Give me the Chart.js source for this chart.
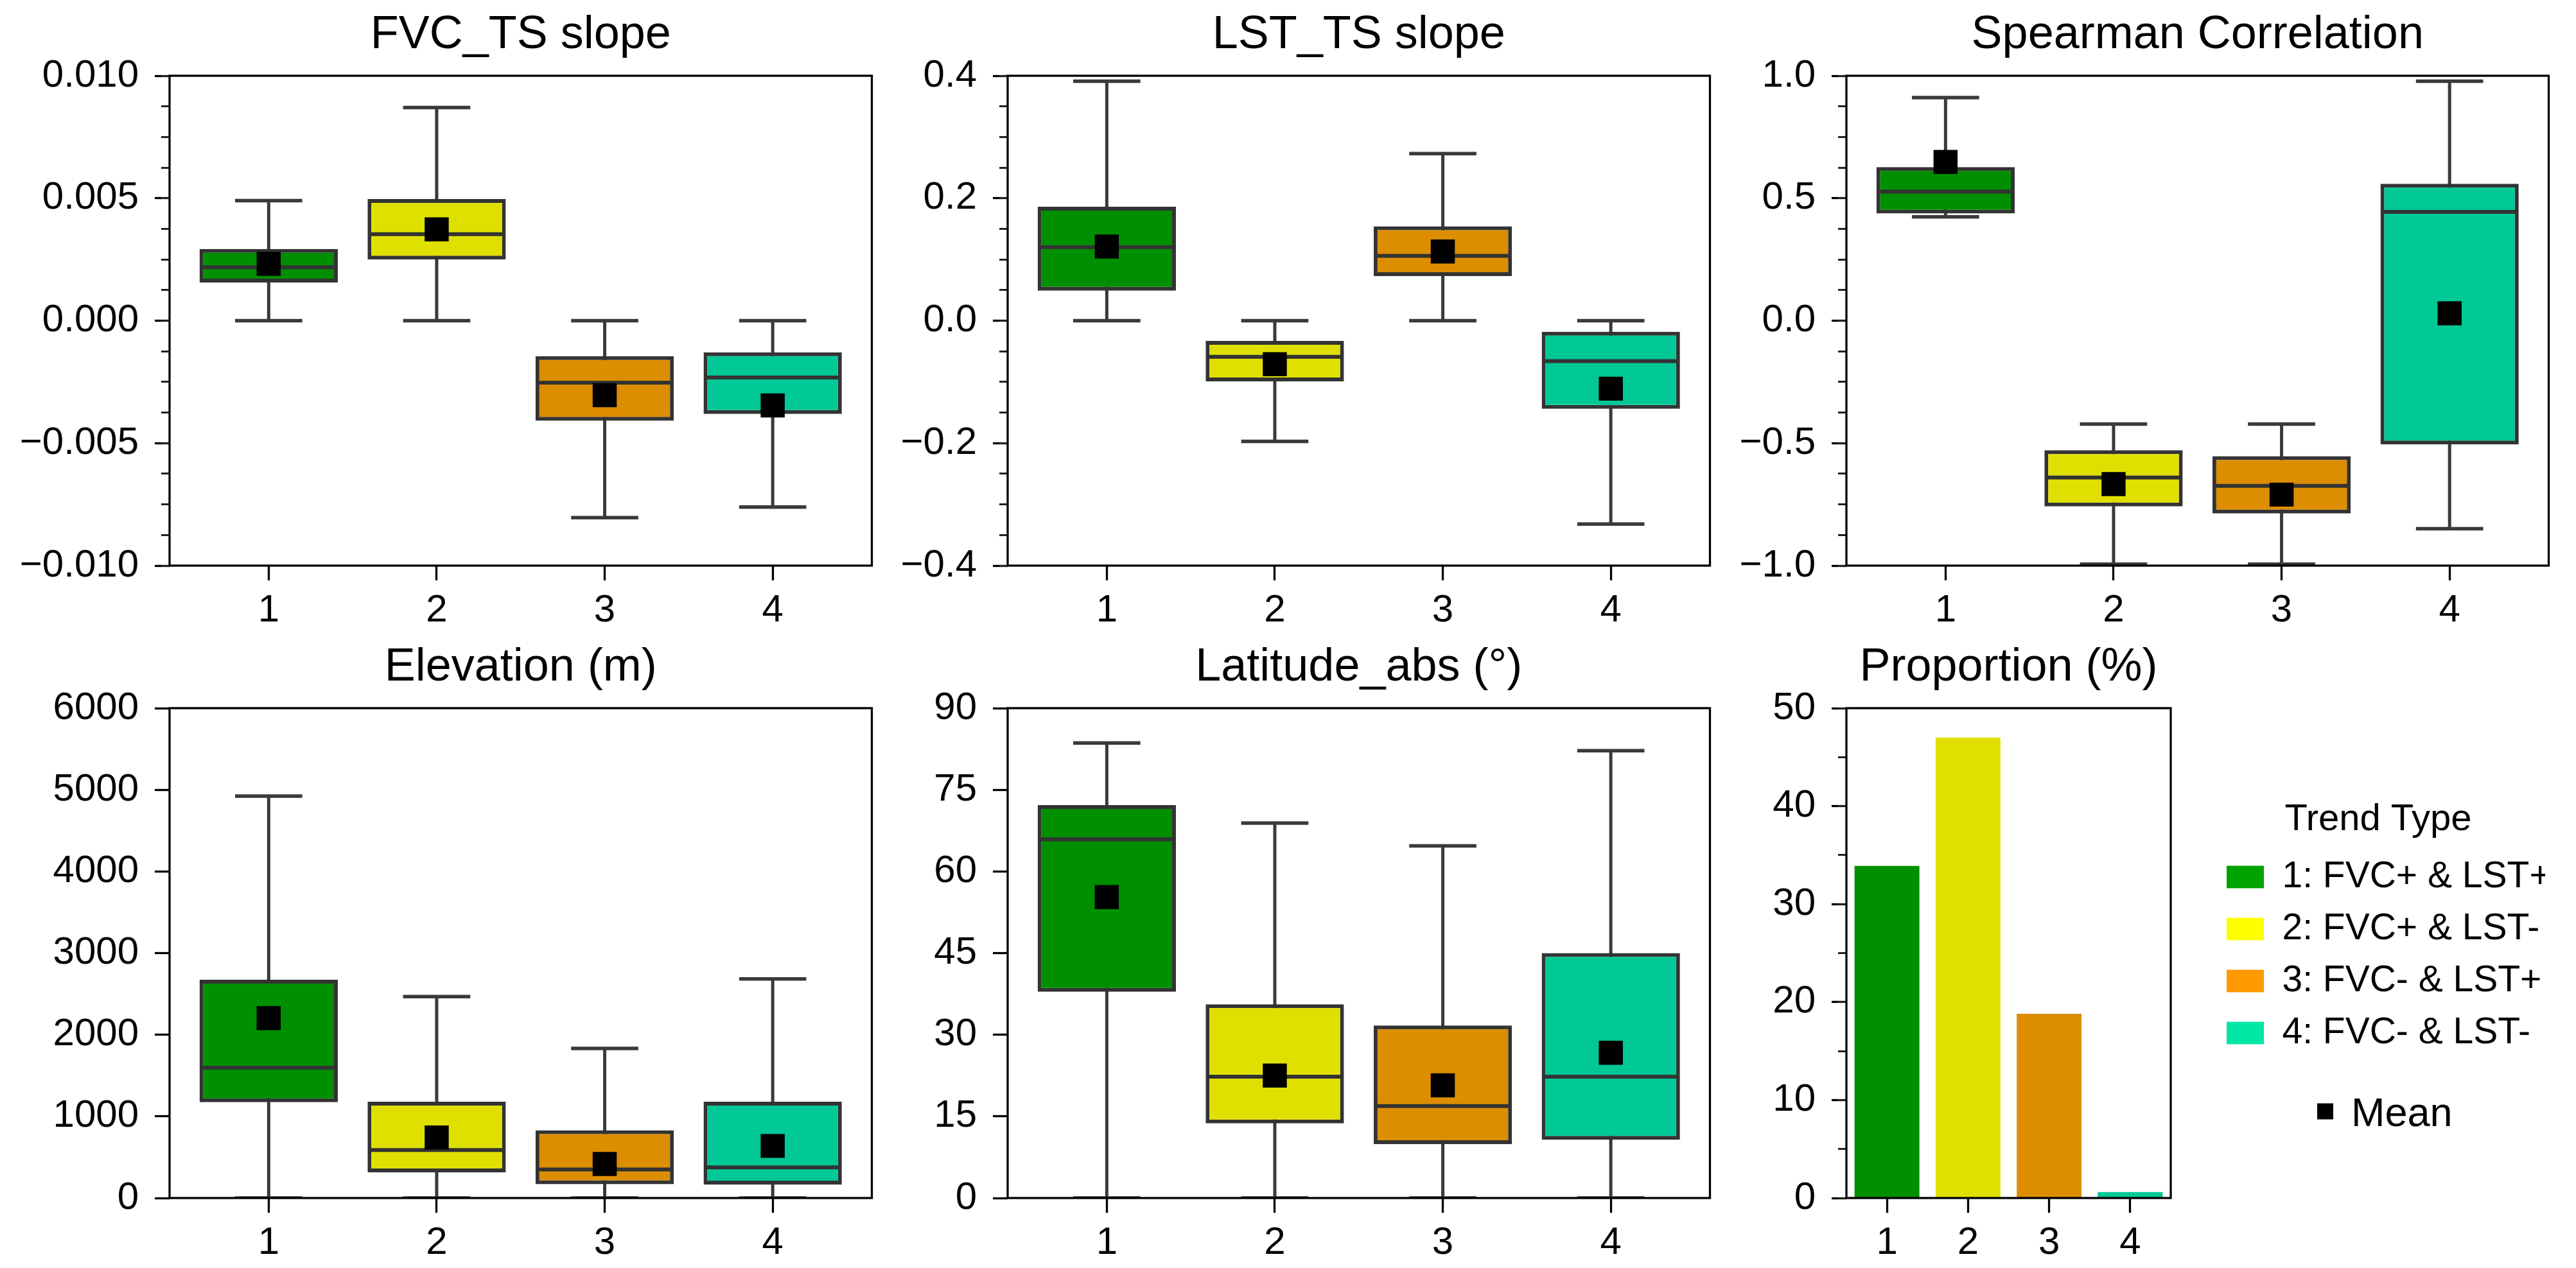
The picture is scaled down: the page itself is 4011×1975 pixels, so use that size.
<!DOCTYPE html>
<html>
<head>
<meta charset="utf-8">
<script src="https://cdn.jsdelivr.net/npm/chart.js@4.4.1/dist/chart.umd.min.js"></script>
<style>
  html, body { margin: 0; padding: 0; background: #ffffff; }
  #fig { position: relative; width: 4011px; height: 1975px; background: #ffffff; overflow: hidden; }
  #fig canvas { position: absolute; }
</style>
</head>
<body>
<div id="fig"></div>
<script>
// ---------------- DATA ----------------
const categories = [1, 2, 3, 4];
const categoryLabels = ['1', '2', '3', '4'];
const trendLabels = ['1: FVC+ & LST+', '2: FVC+ & LST-', '3: FVC- & LST+', '4: FVC- & LST-'];
const legendTitle = 'Trend Type';
const meanLabel = 'Mean';

// FVC_TS slope
const fvcLow    = [0, 0, -0.00804, -0.00761];
const fvcQ1     = [0.00156, 0.00250, -0.00408, -0.00381];
const fvcMedian = [0.00218, 0.00353, -0.00253, -0.00232];
const fvcQ3     = [0.00293, 0.00497, -0.00145, -0.00129];
const fvcHigh   = [0.00490, 0.00870, 0, 0];
const fvcMean   = [0.00232, 0.00373, -0.00304, -0.00346];
const fvcTicks      = [-0.010, -0.005, 0.000, 0.005, 0.010];
const fvcTickLabels = ['\u22120.010', '\u22120.005', '0.000', '0.005', '0.010'];

// LST_TS slope
const lstLow    = [0, -0.197, 0, -0.332];
const lstQ1     = [0.049, -0.099, 0.073, -0.144];
const lstMedian = [0.120, -0.059, 0.106, -0.066];
const lstQ3     = [0.186, -0.033, 0.154, -0.018];
const lstHigh   = [0.391, 0, 0.273, 0];
const lstMean   = [0.121, -0.071, 0.113, -0.111];
const lstTicks      = [-0.4, -0.2, 0.0, 0.2, 0.4];
const lstTickLabels = ['\u22120.4', '\u22120.2', '0.0', '0.2', '0.4'];

// Spearman Correlation
const spLow    = [0.424, -0.994, -0.994, -0.849];
const spQ1     = [0.438, -0.758, -0.787, -0.505];
const spMedian = [0.527, -0.640, -0.674, 0.444];
const spQ3     = [0.627, -0.529, -0.553, 0.559];
const spHigh   = [0.911, -0.422, -0.422, 0.978];
const spMean   = [0.648, -0.667, -0.710, 0.030];
const spTicks      = [-1.0, -0.5, 0.0, 0.5, 1.0];
const spTickLabels = ['\u22121.0', '\u22120.5', '0.0', '0.5', '1.0'];

// Elevation (m)
const elevLow    = [0, 0, 0, 0];
const elevQ1     = [1174, 314, 170, 165];
const elevMedian = [1596, 587, 350, 376];
const elevQ3     = [2673, 1179, 829, 1179];
const elevHigh   = [4923, 2467, 1833, 2683];
const elevMean   = [2204, 741, 417, 638];
const elevTicks      = [0, 1000, 2000, 3000, 4000, 5000, 6000];
const elevTickLabels = ['0', '1000', '2000', '3000', '4000', '5000', '6000'];

// Latitude_abs (°)
const latLow    = [0, 0, 0, 0];
const latQ1     = [37.9, 13.7, 9.9, 10.7];
const latMedian = [65.9, 22.3, 16.9, 22.3];
const latQ3     = [72.2, 35.6, 31.7, 45.0];
const latHigh   = [83.6, 68.9, 64.7, 82.2];
const latMean   = [55.3, 22.5, 20.7, 26.7];
const latTicks      = [0, 15, 30, 45, 60, 75, 90];
const latTickLabels = ['0', '15', '30', '45', '60', '75', '90'];

// Proportion (%)
const proportion = [33.9, 47.0, 18.8, 0.6];
const propTicks      = [0, 10, 20, 30, 40, 50];
const propTickLabels = ['0', '10', '20', '30', '40', '50'];

// ---------------- STYLE / LAYOUT ----------------
const boxColors    = ['#008f00', '#e0e000', '#dc8e00', '#00c896'];
const legendColors = ['#00a300', '#ffff00', '#ff9900', '#00e6a5'];
const BOX_EDGE = '#333333';
const WHISKER  = '#3a3a3a';
const TICK_FONT = 60;
const TITLE_FONT = 72;
const Y_AXIS_W = 250, X_AXIS_H = 100, TOP_H = 118, PAD_R = 20;
const PLOT_W = 1100, PLOT_H = 763, PROP_W = 505;
const COL_LEFT = [264, 1569, 2875];
const ROW_TOP = [118, 1103];
const BOX_HALF = 0.4, CAP_HALF = 0.2;

Chart.defaults.font.family = "'Liberation Sans', Arial, Helvetica, sans-serif";
Chart.defaults.color = '#000';

const fig = document.getElementById('fig');
function addCanvas(left, top, w, h) {
  const c = document.createElement('canvas');
  c.width = w; c.height = h;
  c.style.left = left + 'px'; c.style.top = top + 'px';
  c.style.width = w + 'px'; c.style.height = h + 'px';
  fig.appendChild(c);
  return c;
}

const halfPx = (chart, w) => {
  const s = chart.scales.x;
  return Math.abs(s.getPixelForValue(1 + w) - s.getPixelForValue(1));
};

const framePlugin = {
  id: 'frame',
  afterDatasetsDraw(chart) {
    const {ctx, chartArea: a} = chart;
    ctx.save();
    ctx.strokeStyle = '#000';
    ctx.lineWidth = 3.3;
    ctx.strokeRect(a.left, a.top, a.right - a.left, a.bottom - a.top);
    ctx.restore();
  }
};

const meanKeyPlugin = {
  id: 'meanKey',
  afterDraw(chart) {
    const L = chart.legend;
    if (!L) return;
    const ctx = chart.ctx;
    const cx = L.left + 177.5, cy = L.top + 628;
    ctx.save();
    ctx.fillStyle = '#000';
    ctx.fillRect(cx - 12.5, cy - 12.5, 25, 25);
    ctx.font = "63px 'Liberation Sans', Arial, Helvetica, sans-serif";
    ctx.textBaseline = 'middle';
    ctx.textAlign = 'left';
    ctx.fillText(meanLabel, cx + 40.5, cy + 5.5);
    ctx.restore();
  }
};

const common = {
  responsive: false,
  maintainAspectRatio: false,
  devicePixelRatio: 1,
  animation: false,
  events: [],
  layout: { padding: { left: 0, top: 0, bottom: 0, right: PAD_R } }
};

function titleOpts(text) {
  return {
    display: true, text, fullSize: false, color: '#000',
    font: { size: TITLE_FONT, weight: 'normal', lineHeight: 1.2 },
    padding: { top: 12, bottom: 19.6 }
  };
}

function xTickGrid() {
  return { offset: false, drawOnChartArea: false, drawTicks: true, tickLength: 23, tickWidth: 3.3, tickColor: '#000' };
}

function boxXScale() {
  return {
    type: 'linear', min: 0.41, max: 4.59, offset: false,
    afterBuildTicks: s => { s.ticks = categories.map(v => ({ value: v })); },
    afterFit: s => { s.height = X_AXIS_H; },
    ticks: { callback: (v, i) => categoryLabels[i], font: { size: TICK_FONT }, padding: 11, color: '#000', maxRotation: 0, autoSkip: false },
    grid: xTickGrid(),
    border: { display: false }
  };
}

function yScales(tickVals, tickLabels, minorStep) {
  const min = tickVals[0], max = tickVals[tickVals.length - 1];
  const s = {
    y: {
      type: 'linear', position: 'left', weight: 1, min, max,
      afterBuildTicks: sc => { sc.ticks = tickVals.map(v => ({ value: v })); },
      afterFit: sc => { sc.width = Y_AXIS_W; },
      ticks: { callback: (v, i) => tickLabels[i], font: { size: TICK_FONT }, padding: 25, color: '#000', autoSkip: false },
      grid: { drawOnChartArea: false, drawTicks: true, tickLength: 23, tickWidth: 3.3, tickColor: '#000' },
      border: { display: false }
    }
  };
  if (minorStep) {
    s.yMinor = {
      type: 'linear', position: 'left', weight: 0, min, max,
      afterFit: sc => { sc.width = 0; },
      ticks: { display: false, stepSize: minorStep, maxTicksLimit: 1000 },
      grid: { drawOnChartArea: false, drawTicks: true, tickLength: 13, tickWidth: 3, tickColor: '#222' },
      border: { display: false }
    };
  }
  return s;
}

function boxDatasets(st) {
  const pts = arr => categories.map((c, i) => ({ x: c, y: arr[i] }));
  const whiskers = [];
  categories.forEach((c, i) => {
    whiskers.push({ x: c, y: st.low[i] }, { x: c, y: st.high[i] }, { x: c, y: null });
  });
  return [
    { type: 'scatter', order: 5, data: whiskers, showLine: true, spanGaps: false,
      borderColor: WHISKER, borderWidth: 5, pointRadius: 0, pointHoverRadius: 0 },
    { type: 'scatter', order: 4, data: pts(st.low).concat(pts(st.high)),
      pointStyle: 'line', pointRadius: c => halfPx(c.chart, CAP_HALF),
      pointBorderColor: WHISKER, pointBorderWidth: 5.5, pointBackgroundColor: WHISKER },
    { type: 'bar', order: 3, data: categories.map((c, i) => ({ x: c, y: [st.q1[i], st.q3[i]] })),
      backgroundColor: boxColors, borderColor: BOX_EDGE, borderWidth: 6, borderSkipped: false,
      barPercentage: 0.823, categoryPercentage: 1.0 },
    { type: 'scatter', order: 2, data: pts(st.median),
      pointStyle: 'line', pointRadius: c => halfPx(c.chart, BOX_HALF),
      pointBorderColor: BOX_EDGE, pointBorderWidth: 6, pointBackgroundColor: BOX_EDGE },
    { type: 'scatter', order: 1, data: pts(st.mean),
      pointStyle: 'rect', pointRadius: 26.5, pointBackgroundColor: '#000', pointBorderWidth: 0 }
  ];
}

function boxPanel(title, st, tickVals, tickLabels, minorStep, left, top) {
  const canvas = addCanvas(left - Y_AXIS_W, top - TOP_H, Y_AXIS_W + PLOT_W + PAD_R, TOP_H + PLOT_H + X_AXIS_H);
  return new Chart(canvas, {
    type: 'bar',
    data: { datasets: boxDatasets(st) },
    options: Object.assign({}, common, {
      scales: Object.assign({ x: boxXScale() }, yScales(tickVals, tickLabels, minorStep)),
      plugins: { title: titleOpts(title), legend: { display: false }, tooltip: { enabled: false } }
    }),
    plugins: [framePlugin]
  });
}

boxPanel('FVC_TS slope',
  { low: fvcLow, q1: fvcQ1, median: fvcMedian, q3: fvcQ3, high: fvcHigh, mean: fvcMean },
  fvcTicks, fvcTickLabels, 0.00125, COL_LEFT[0], ROW_TOP[0]);
boxPanel('LST_TS slope',
  { low: lstLow, q1: lstQ1, median: lstMedian, q3: lstQ3, high: lstHigh, mean: lstMean },
  lstTicks, lstTickLabels, 0.05, COL_LEFT[1], ROW_TOP[0]);
boxPanel('Spearman Correlation',
  { low: spLow, q1: spQ1, median: spMedian, q3: spQ3, high: spHigh, mean: spMean },
  spTicks, spTickLabels, 0.125, COL_LEFT[2], ROW_TOP[0]);
boxPanel('Elevation (m)',
  { low: elevLow, q1: elevQ1, median: elevMedian, q3: elevQ3, high: elevHigh, mean: elevMean },
  elevTicks, elevTickLabels, null, COL_LEFT[0], ROW_TOP[1]);
boxPanel('Latitude_abs (\u00b0)',
  { low: latLow, q1: latQ1, median: latMedian, q3: latQ3, high: latHigh, mean: latMean },
  latTicks, latTickLabels, null, COL_LEFT[1], ROW_TOP[1]);

// Proportion panel with legend
(function () {
  const LEGEND_GAP = 63, LEGEND_W = 520;
  const left = COL_LEFT[2], top = ROW_TOP[1];
  const canvas = addCanvas(left - Y_AXIS_W, top - TOP_H, Y_AXIS_W + PROP_W + LEGEND_GAP + LEGEND_W + PAD_R, TOP_H + PLOT_H + X_AXIS_H);
  new Chart(canvas, {
    type: 'bar',
    data: {
      labels: categoryLabels,
      datasets: [{ data: proportion, backgroundColor: boxColors, borderWidth: 0, barPercentage: 0.8, categoryPercentage: 1.0 }]
    },
    options: Object.assign({}, common, {
      scales: Object.assign({
        x: {
          type: 'category', offset: true,
          afterFit: s => { s.height = X_AXIS_H; },
          ticks: { font: { size: TICK_FONT }, padding: 11, color: '#000', maxRotation: 0, autoSkip: false },
          grid: xTickGrid(),
          border: { display: false }
        },
        ySpacer: {
          type: 'linear', position: 'right', weight: 0,
          afterFit: s => { s.width = LEGEND_GAP; },
          ticks: { display: false }, grid: { display: false }, border: { display: false }
        }
      }, yScales(propTicks, propTickLabels, 5)),
      plugins: {
        title: titleOpts('Proportion (%)'),
        tooltip: { enabled: false },
        legend: {
          display: true, position: 'right', align: 'start', fullSize: false, maxWidth: LEGEND_W,
          title: { display: true, text: legendTitle, color: '#000',
                   font: { size: 58, weight: 'normal' }, padding: { top: 145, bottom: -4 } },
          labels: {
            color: '#000', font: { size: 57 }, boxWidth: 58, boxHeight: 35, padding: 24,
            generateLabels: () => trendLabels.map((t, i) => ({
              text: t, fillStyle: legendColors[i], strokeStyle: legendColors[i],
              lineWidth: 0, hidden: false, index: i, datasetIndex: 0
            }))
          }
        }
      }
    }),
    plugins: [framePlugin, meanKeyPlugin]
  });
})();
</script>
</body>
</html>
